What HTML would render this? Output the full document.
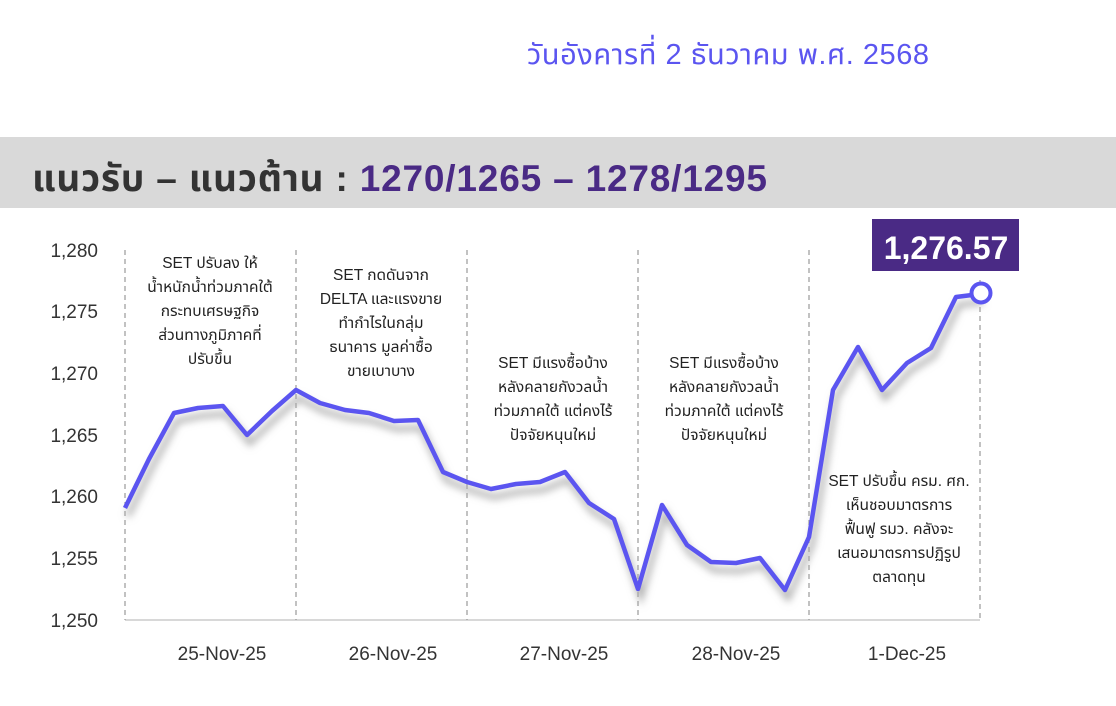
<!DOCTYPE html>
<html><head><meta charset="utf-8"><style>
body{margin:0;width:1116px;height:701px;background:#fff;overflow:hidden;font-family:"Liberation Sans","Noto Sans Thai","Loma","Garuda",sans-serif;}
</style></head><body>
<svg width="1116" height="701" xmlns="http://www.w3.org/2000/svg" font-family="Liberation Sans, Noto Sans Thai, Loma, sans-serif">
<defs><filter id="sh" x="-10%" y="-10%" width="120%" height="130%"><feGaussianBlur stdDeviation="4"/></filter></defs>
<text x="728" y="64" font-size="29" fill="#5b55f0" text-anchor="middle" textLength="402">วันอังคารที่ 2 ธันวาคม พ.ศ. 2568</text>
<rect x="0" y="137" width="1116" height="71" fill="#d9d9d9"/>
<text x="32" y="191" font-size="37" font-weight="bold" fill="#333" textLength="735">แนวรับ – แนวต้าน : <tspan fill="#4a2a85">1270/1265 – 1278/1295</tspan></text>
<g font-size="19" fill="#333" text-anchor="end">
<text x="98" y="257">1,280</text><text x="98" y="318">1,275</text><text x="98" y="380">1,270</text><text x="98" y="442">1,265</text><text x="98" y="503">1,260</text><text x="98" y="565">1,255</text><text x="98" y="627">1,250</text>
</g>
<line x1="125" y1="620" x2="980" y2="620" stroke="#ccc" stroke-width="1.5"/>
<g stroke="#999" stroke-dasharray="5,4" stroke-width="1.2">
<line x1="125" y1="250" x2="125" y2="620"/><line x1="296" y1="250" x2="296" y2="620"/><line x1="467" y1="250" x2="467" y2="620"/><line x1="638" y1="250" x2="638" y2="620"/><line x1="809" y1="250" x2="809" y2="620"/><line x1="980" y1="280" x2="980" y2="620"/>
</g>
<g font-size="19" fill="#333" text-anchor="middle">
<text x="222" y="660">25-Nov-25</text><text x="393" y="660">26-Nov-25</text><text x="564" y="660">27-Nov-25</text><text x="736" y="660">28-Nov-25</text><text x="907" y="660">1-Dec-25</text>
</g>
<g font-size="15.5" fill="#222" text-anchor="middle">
<text x="210" y="268">SET ปรับลง ให้</text><text x="210" y="292">น้ำหนักน้ำท่วมภาคใต้</text><text x="210" y="316">กระทบเศรษฐกิจ</text><text x="210" y="340">ส่วนทางภูมิภาคที่</text><text x="210" y="364">ปรับขึ้น</text>
<text x="381" y="280">SET กดดันจาก</text><text x="381" y="304">DELTA และแรงขาย</text><text x="381" y="328">ทำกำไรในกลุ่ม</text><text x="381" y="352">ธนาคาร มูลค่าซื้อ</text><text x="381" y="376">ขายเบาบาง</text>
<text x="553" y="368">SET มีแรงซื้อบ้าง</text><text x="553" y="392">หลังคลายกังวลน้ำ</text><text x="553" y="416">ท่วมภาคใต้ แต่คงไร้</text><text x="553" y="440">ปัจจัยหนุนใหม่</text>
<text x="724" y="368">SET มีแรงซื้อบ้าง</text><text x="724" y="392">หลังคลายกังวลน้ำ</text><text x="724" y="416">ท่วมภาคใต้ แต่คงไร้</text><text x="724" y="440">ปัจจัยหนุนใหม่</text>
<text x="899" y="486">SET ปรับขึ้น ครม. ศก.</text><text x="899" y="510">เห็นชอบมาตรการ</text><text x="899" y="534">ฟื้นฟู รมว. คลังจะ</text><text x="899" y="558">เสนอมาตรการปฏิรูป</text><text x="899" y="582">ตลาดทุน</text>
</g>
<g transform="translate(3,8)"><polyline filter="url(#sh)" fill="none" stroke="#aaa" stroke-width="5" points="125,508 149,459 174,413 198,408 223,406 247,435 272,411 296,390 320,403 345,410 369,413 394,421 418,420 443,472 467,482 491,489 516,484 540,482 565,472 589,503 614,519 638,589 662,505 687,545 711,562 736,563 760,558 785,590 809,537 833,390 858,347 882,390 907,363 931,348 956,297 980,294"/></g>
<polyline fill="none" stroke="#5b55f0" stroke-width="4.5" stroke-linejoin="round" points="125,508 149,459 174,413 198,408 223,406 247,435 272,411 296,390 320,403 345,410 369,413 394,421 418,420 443,472 467,482 491,489 516,484 540,482 565,472 589,503 614,519 638,589 662,505 687,545 711,562 736,563 760,558 785,590 809,537 833,390 858,347 882,390 907,363 931,348 956,297 980,294"/>
<circle cx="981" cy="293" r="9.5" fill="#fff" stroke="#5b55f0" stroke-width="4"/>
<rect x="872" y="219" width="147" height="52" fill="#4a2a85"/>
<text x="946" y="259" font-size="32" font-weight="bold" fill="#fff" text-anchor="middle">1,276.57</text>
</svg>
</body></html>
